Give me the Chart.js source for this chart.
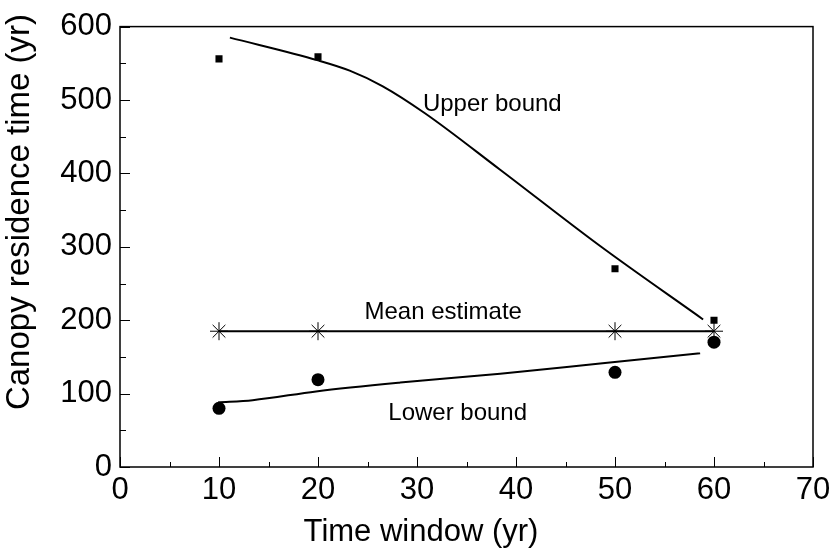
<!DOCTYPE html>
<html>
<head>
<meta charset="utf-8">
<title>Canopy residence time</title>
<script src="https://cdn.jsdelivr.net/npm/chart.js@4.4.1/dist/chart.umd.min.js"></script>
<style>
  html, body { margin: 0; padding: 0; background: #fff; }
  #wrap { width: 837px; height: 551px; }
</style>
</head>
<body>
<div id="wrap"><canvas id="residence_chart" width="837" height="551"></canvas></div>
<script>
// time windows (yr)
const windows = [10, 20, 50, 60];
// estimates of canopy residence time (yr)
const upperBound = [556, 559, 270, 200];
const meanEstimate = [185, 185, 185, 185];
const lowerBound = [80, 119, 129, 170];

// fitted curves through the bounds
const upperFitX = [11.1, 20, 23.2, 26.5, 30.8, 38.4, 48.5, 58.9];
const upperFitY = [585, 554, 540, 519, 482, 405, 301, 201];
const lowerFitX = [9.9, 13.4, 19.8, 28.3, 38.4, 48.5, 58.6];
const lowerFitY = [88, 91, 103, 115, 127, 141, 155];

const xTicks = [0, 10, 20, 30, 40, 50, 60, 70];
const yTicks = [0, 100, 200, 300, 400, 500, 600];

// text placed next to the curves, in data units (left edge, baseline)
const curveLabels = [
    { text: "Upper bound", x: 30.6, y: 485 },
    { text: "Mean estimate", x: 24.7, y: 201 },
    { text: "Lower bound", x: 27.1, y: 64 }
];

const FONT = '"Liberation Sans", Arial, Helvetica, sans-serif';

function toPoints(xs, ys) {
    return xs.map((x, i) => ({ x: x, y: ys[i] }));
}

// frame, inward tick marks, axis titles and curve labels
const framePlugin = {
    id: 'frame',
    afterDraw(chart) {
        const ctx = chart.ctx;
        const area = chart.chartArea;
        const xs = chart.scales.x;
        const ys = chart.scales.y;
        ctx.save();
        ctx.strokeStyle = '#000';
        ctx.lineWidth = 1.5;
        ctx.strokeRect(area.left, area.top, area.right - area.left, area.bottom - area.top);

        ctx.lineWidth = 1;
        ctx.beginPath();
        for (let v = 0; v <= 70; v += 5) {
            const px = Math.round(xs.getPixelForValue(v)) + 0.5;
            const len = v % 10 === 0 ? 10 : 5;
            ctx.moveTo(px, area.bottom);
            ctx.lineTo(px, area.bottom - len);
        }
        for (let v = 0; v <= 600; v += 50) {
            const py = Math.round(ys.getPixelForValue(v)) + 0.5;
            const len = v % 100 === 0 ? 10 : 6;
            ctx.moveTo(area.left, py);
            ctx.lineTo(area.left + len, py);
        }
        ctx.stroke();

        ctx.fillStyle = '#000';
        ctx.font = '24px ' + FONT;
        ctx.textAlign = 'left';
        ctx.textBaseline = 'alphabetic';
        for (const lbl of curveLabels) {
            ctx.fillText(lbl.text, xs.getPixelForValue(lbl.x), ys.getPixelForValue(lbl.y));
        }

        ctx.textAlign = 'center';
        ctx.textBaseline = 'middle';
        ctx.font = '31px ' + FONT;
        ctx.fillText("Time window (yr)", 421, 532);

        ctx.translate(20, 212);
        ctx.rotate(-Math.PI / 2);
        ctx.font = '33px ' + FONT;
        ctx.fillText("Canopy residence time (yr)", 0, 0);
        ctx.restore();
    }
};

new Chart(document.getElementById("residence_chart").getContext("2d"), {
    type: 'scatter',
    data: {
        datasets: [{
            label: "Upper bound",
            data: toPoints(windows, upperBound),
            pointStyle: 'rect',
            pointRadius: 5,
            backgroundColor: '#000',
            borderColor: '#000',
            borderWidth: 0,
            showLine: false
        }, {
            label: "Upper bound fit",
            data: toPoints(upperFitX, upperFitY),
            showLine: true,
            pointRadius: 0,
            borderColor: '#000',
            borderWidth: 2,
            cubicInterpolationMode: 'monotone'
        }, {
            label: "Mean estimate",
            data: toPoints(windows, meanEstimate),
            showLine: true,
            pointStyle: 'star',
            pointRadius: 9,
            pointBorderWidth: 1,
            borderColor: '#000',
            backgroundColor: '#000',
            borderWidth: 2
        }, {
            label: "Lower bound",
            data: toPoints(windows, lowerBound),
            pointStyle: 'circle',
            pointRadius: 6.5,
            backgroundColor: '#000',
            borderColor: '#000',
            borderWidth: 0,
            showLine: false
        }, {
            label: "Lower bound fit",
            data: toPoints(lowerFitX, lowerFitY),
            showLine: true,
            pointRadius: 0,
            borderColor: '#000',
            borderWidth: 2,
            cubicInterpolationMode: 'monotone'
        }]
    },
    options: {
        responsive: false,
        animation: false,
        layout: { padding: { top: 19, right: 24, left: 0, bottom: 0 } },
        plugins: {
            legend: { display: false },
            tooltip: { enabled: false }
        },
        scales: {
            x: {
                type: 'linear',
                min: 0,
                max: 70,
                afterBuildTicks: (scale) => { scale.ticks = xTicks.map(v => ({ value: v })); },
                afterFit: (scale) => { scale.height = 84; },
                ticks: { color: '#000', padding: 5, font: { size: 31, family: FONT } },
                grid: { display: false, drawTicks: false },
                border: { display: false }
            },
            y: {
                min: 0,
                max: 600,
                afterBuildTicks: (scale) => { scale.ticks = yTicks.map(v => ({ value: v })); },
                afterFit: (scale) => { scale.width = 120; },
                ticks: { color: '#000', padding: 8, font: { size: 31, family: FONT } },
                grid: { display: false, drawTicks: false },
                border: { display: false }
            }
        }
    },
    plugins: [framePlugin]
});
</script>
</body>
</html>
